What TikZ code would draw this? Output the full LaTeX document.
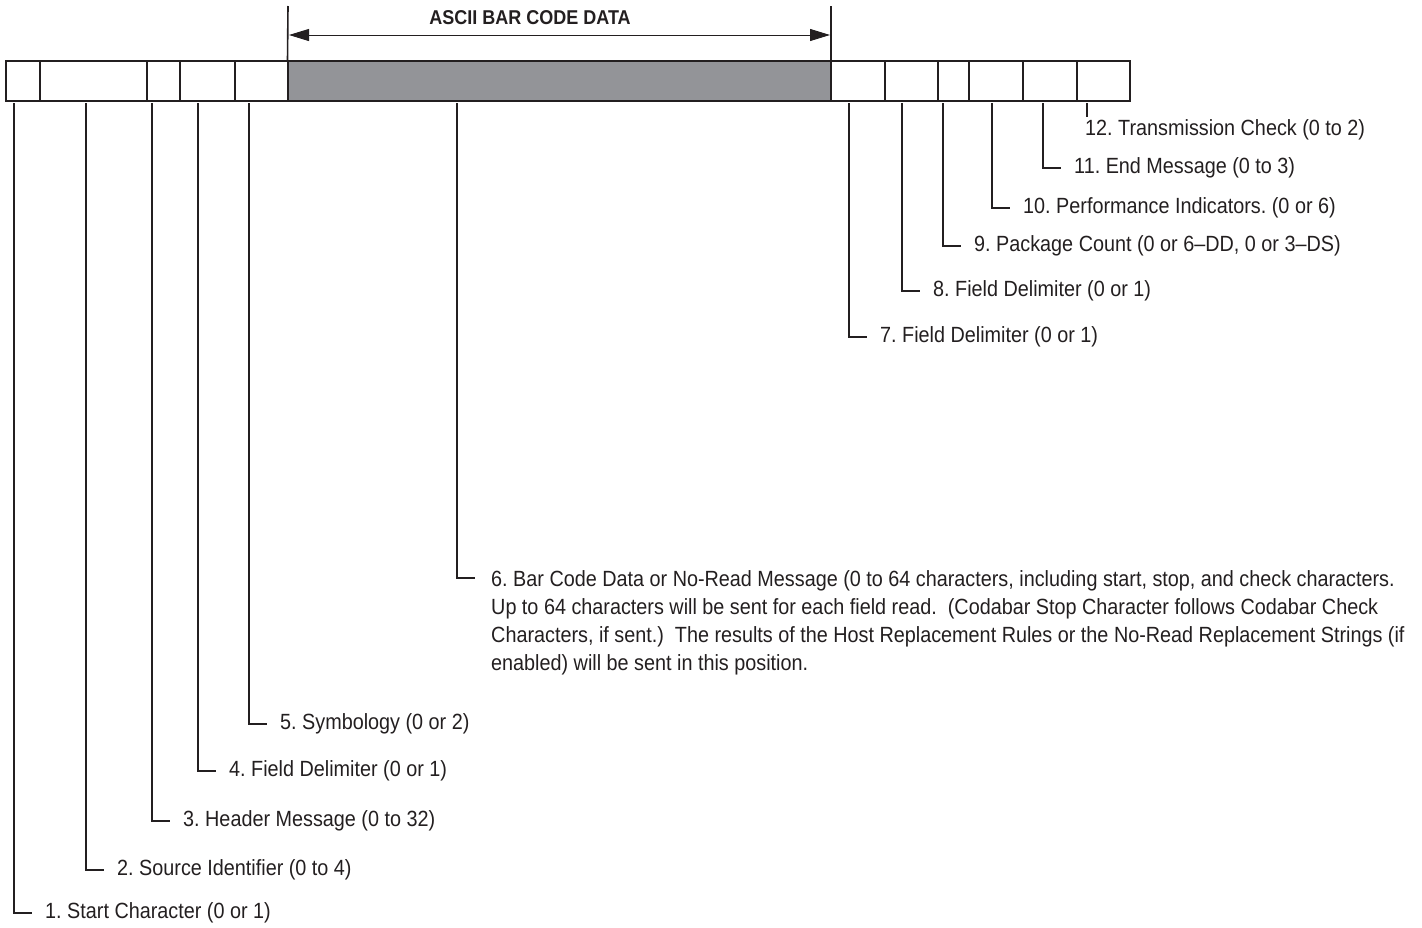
\documentclass[tikz,border=0pt]{standalone}
\usepackage{fontspec}
\setmainfont{Liberation Sans}[FakeStretch=0.9]
\usetikzlibrary{arrows.meta}
\definecolor{ink}{RGB}{35,31,32}
\definecolor{bargray}{RGB}{147,148,152}
\frenchspacing
\begin{document}
\begin{tikzpicture}[x=1pt,y=-1pt,
  cell/.style={draw=ink,line width=2pt,minimum height=40pt,inner sep=0pt,outer sep=0pt},
  leader/.style={draw=ink,line width=1.3pt},
  lab/.style={anchor=west,inner xsep=13pt,inner ysep=0pt,text=ink,font=\fontsize{22}{28}\selectfont},
  dimline/.style={draw=ink,line width=1pt,>={Triangle[length=20pt,width=12pt]},<->}]
\useasboundingbox (0,0) rectangle (1422,927);
% bar cells
\node[cell,fill=bargray,minimum width=543.5pt] (c6) at (559.25,81) {};
\node[cell,minimum width=33.5pt] (c1) at (22.75,81) {};
\node[cell,minimum width=107.5pt] (c2) at (93.25,81) {};
\node[cell,minimum width=33pt] (c3) at (163.5,81) {};
\node[cell,minimum width=55pt] (c4) at (207.5,81) {};
\node[cell,minimum width=52.5pt] (c5) at (261.25,81) {};
\node[cell,minimum width=54pt] (c7) at (858,81) {};
\node[cell,minimum width=53pt] (c8) at (911.5,81) {};
\node[cell,minimum width=31pt] (c9) at (953.5,81) {};
\node[cell,minimum width=54pt] (c10) at (996,81) {};
\node[cell,minimum width=54pt] (c11) at (1050,81) {};
\node[cell,minimum width=53pt] (c12) at (1103.5,81) {};
% dimension for ASCII data
\coordinate (tl) at (288,6);
\coordinate (tr) at (831,6);
\coordinate (al) at (289,35);
\coordinate (ar) at (830,35);
\draw[ink,line width=1.6pt] (c6.north west) -- (tl);
\draw[ink,line width=1.6pt] (c6.north east) -- (tr);
\draw[dimline] (al) -- (ar);
\node[text=ink,font=\bfseries\fontsize{20}{24}\selectfont] (title) at (530,18) {ASCII BAR CODE DATA};
% labels
\node[lab] (l1) at (32,913) {1. Start Character (0 or 1)};
\node[lab] (l2) at (104,870) {2. Source Identifier (0 to 4)};
\node[lab] (l3) at (170,821) {3. Header Message (0 to 32)};
\node[lab] (l4) at (216,771) {4. Field Delimiter (0 or 1)};
\node[lab] (l5) at (267,724) {5. Symbology (0 or 2)};
\node[lab,anchor=north west,inner xsep=16pt,align=left] (l6) at (475,570) {6. Bar Code Data or No-Read Message (0 to 64 characters, including start, stop, and check characters.\\
Up to 64 characters will be sent for each field read.~~(Codabar Stop Character follows Codabar Check\\
Characters, if sent.)~~The results of the Host Replacement Rules or the No-Read Replacement Strings (if\\
enabled) will be sent in this position.};
\node[lab] (l7) at (867,337) {7. Field Delimiter (0 or 1)};
\node[lab] (l8) at (920,291) {8. Field Delimiter (0 or 1)};
\node[lab] (l9) at (961,246) {9. Package Count (0 or 6–DD, 0 or 3–DS)};
\node[lab] (l10) at (1010,208) {10. Performance Indicators. (0 or 6)};
\node[lab] (l11) at (1061,168) {11. End Message (0 to 3)};
\node[lab,inner xsep=0pt] (l12) at (1085,130) {12. Transmission Check (0 to 2)};
% leaders
\draw[leader] ([xshift=8pt,yshift=-2pt]c1.south west) |- (l1.west);
\draw[leader] ([xshift=46.5pt,yshift=-2pt]c2.south west) |- (l2.west);
\draw[leader] ([xshift=5pt,yshift=-2pt]c3.south west) |- (l3.west);
\draw[leader] ([xshift=18pt,yshift=-2pt]c4.south west) |- (l4.west);
\draw[leader] ([xshift=14pt,yshift=-2pt]c5.south west) |- (l5.west);
\draw[leader] ([xshift=169.5pt,yshift=-2pt]c6.south west) |- ([yshift=-8pt]l6.north west);
\draw[leader] ([xshift=18pt,yshift=-2pt]c7.south west) |- (l7.west);
\draw[leader] ([xshift=17pt,yshift=-2pt]c8.south west) |- (l8.west);
\draw[leader] ([xshift=5pt,yshift=-2pt]c9.south west) |- (l9.west);
\draw[leader] ([xshift=23pt,yshift=-2pt]c10.south west) |- (l10.west);
\draw[leader] ([xshift=20pt,yshift=-2pt]c11.south west) |- (l11.west);
\coordinate (e12) at (1087,117);
\draw[leader] ([xshift=10pt,yshift=-2pt]c12.south west) -- (e12);
\end{tikzpicture}
\end{document}
